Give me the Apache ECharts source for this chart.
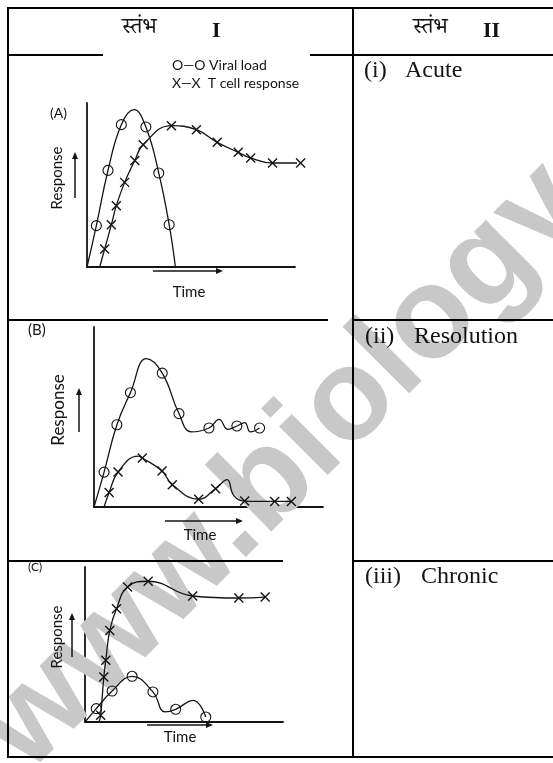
<!DOCTYPE html>
<html><head><meta charset="utf-8">
<script src="https://cdn.jsdelivr.net/npm/echarts@6/dist/echarts.min.js"></script>
<style>html,body{margin:0;padding:0;background:#fff}#c{width:553px;height:763px}</style>
</head><body><div id="c"></div>
<script>
// ---- texts ----
const headerWord = 'स्तंभ';
const headerNums = ['I', 'II'];
const rowNums = ['(i)', '(ii)', '(iii)'];
const rowWords = ['Acute', 'Resolution', 'Chronic'];
const panelLabels = ['(A)', '(B)', '(C)'];
const legendLabels = ['O—O Viral load', 'X—X  T cell response'];
const axisNames = ['Response', 'Time'];
const watermark = 'www.biology';

// ---- data: [time, response, marker(1) / curve point only(0)] ----
const viralA = [[0,0,0],[4.5,25.2,1],[10.1,58.9,1],[16.5,86.8,1],[22.6,95.9,0],[28.3,85.4,1],[34.5,57.3,1],[39.5,25.8,1],[42.5,0,0]];
const tcellA = [[6.1,0,0],[8.5,11.0,1],[11.7,25.8,1],[14.1,37.4,1],[18.1,51.6,1],[23.0,65.0,1],[27.0,74.6,1],[40.6,86.2,1],[52.6,83.7,1],[62.6,76.0,1],[72.7,69.9,1],[78.7,66.5,1],[89.2,63.4,1],[102.7,63.4,1]];
const viralB = [[0,0,0],[4.4,19.4,1],[10.0,45.7,1],[15.9,63.5,1],[22.9,82.4,0],[29.8,74.4,1],[37.1,51.9,1],[42.5,41.7,0],[50.2,43.9,1],[54.6,48.7,0],[58.5,43.1,0],[62.4,45.0,1],[65.8,46.9,0],[68.3,41.7,0],[72.3,43.9,1]];
const tcellB = [[4.4,0,0],[6.6,8.0,1],[10.5,19.4,1],[19.2,28.3,0],[21.1,27.2,1],[29.7,20.0,1],[34.2,12.4,1],[45.7,4.3,1],[53.1,10.2,1],[58.1,15.2,0],[61.0,6.5,0],[65.8,3.3,1],[78.9,3.1,1],[86.2,3.1,1]];
const viralC = [[0,0,0],[5.7,8.6,1],[13.7,20.0,1],[23.8,29.5,1],[34.3,19.4,1],[40.4,6.5,0],[45.8,8.2,1],[54.7,14.0,0],[61.0,3.2,1]];
const tcellC = [[7.1,0,0],[7.9,4.3,1],[9.5,29.0,1],[10.5,39.8,1],[12.5,59.1,1],[15.9,73.1,1],[21.5,87.1,1],[31.9,90.8,1],[54.4,81.3,1],[77.7,80.0,1],[91.0,80.6,1]];

// ---- layout ----
const grids = [
  {left: 87, top: 103, width: 208, height: 164},
  {left: 94, top: 327, width: 229, height: 180},
  {left: 85, top: 567, width: 198, height: 155}
];
const INK = '#141414';
const SANS = 'Lato, "Open Sans", sans-serif';
const SERIF = '"Liberation Serif", "DejaVu Serif", serif';
const DEVA = '"Noto Serif Devanagari", "Noto Sans Devanagari", "Lohit Devanagari", sans-serif';
const XSYM = 'path://M0,0L10,10M10,0L0,10';

const chart = echarts.init(document.getElementById('c'), null, {renderer: 'canvas'});

function axis() {
  return {type: 'value', min: 0, max: 100, axisLine: {show: true, onZero: false, lineStyle: {color: INK, width: 1.8}},
    axisTick: {show: false}, axisLabel: {show: false}, splitLine: {show: false}};
}
function curve(arr, idx, isX) {
  const sym = isX ? XSYM : 'circle';
  return {
    type: 'line', xAxisIndex: idx, yAxisIndex: idx, smooth: 0.45, clip: false, silent: true,
    showAllSymbol: true, symbolSize: isX ? 9 : 10, z: 5,
    lineStyle: {color: INK, width: 1.3},
    itemStyle: {color: 'transparent', borderColor: INK, borderWidth: isX ? 1.4 : 1.1},
    emphasis: {disabled: true},
    data: arr.map(p => ({value: [p[0], p[1]], symbol: p[2] ? sym : 'none'}))
  };
}
function txt(x, y, text, size, family, opts) {
  opts = opts || {};
  return {type: 'text', x: x, y: y, rotation: opts.rot || 0, z: 10, silent: true,
    style: {text: text, fontSize: size, fontFamily: family, fontWeight: opts.weight || 'normal', fill: opts.fill || INK,
      textAlign: opts.align || 'left', align: opts.align || 'left',
      textVerticalAlign: 'middle', verticalAlign: 'middle'}};
}
function hline(x1, x2, y, w, c) {
  return {type: 'line', z: 10, silent: true, shape: {x1: x1, y1: y, x2: x2, y2: y}, style: {stroke: c || '#000', lineWidth: w || 2}};
}
function vline(x, y1, y2, w, c) {
  return {type: 'line', z: 10, silent: true, shape: {x1: x, y1: y1, x2: x, y2: y2}, style: {stroke: c || '#000', lineWidth: w || 2}};
}
function arrowUp(x, yb, yt) {
  return [vline(x, yb, yt + 5, 1.5, INK),
    {type: 'polygon', z: 10, silent: true, shape: {points: [[x, yt], [x - 3, yt + 7], [x + 3, yt + 7]]}, style: {fill: INK}}];
}
function arrowRight(x1, x2, y) {
  return [hline(x1, x2 - 5, y, 1.5, INK),
    {type: 'polygon', z: 10, silent: true, shape: {points: [[x2, y], [x2 - 7, y - 3], [x2 - 7, y + 3]]}, style: {fill: INK}}];
}

const g = [];
// watermark
g.push({type: 'text', x: 3, y: 749, rotation: Math.PI / 4, z: 1, silent: true,
  style: {text: watermark, fontSize: 130, fontWeight: 'bold', fontFamily: '"Liberation Sans", Arial, sans-serif', fill: '#c8c8c8',
    textAlign: 'left', align: 'left', textVerticalAlign: 'middle', verticalAlign: 'middle'}});
// table rules
g.push(hline(7, 553, 8));
g.push(hline(7, 103, 55)); g.push(hline(310, 553, 55));
g.push(hline(7, 328, 320)); g.push(hline(353, 553, 320));
g.push(hline(7, 283, 561)); g.push(hline(353, 553, 561));
g.push(hline(7, 553, 757));
g.push(vline(8, 7, 758));
g.push(vline(353, 7, 758));
// header
g.push(txt(122, 31, headerWord, 22, DEVA));
g.push(txt(212, 31, headerNums[0], 22, SERIF, {weight: 'bold'}));
g.push(txt(413, 31, headerWord, 22, DEVA));
g.push(txt(483, 31, headerNums[1], 22, SERIF, {weight: 'bold'}));
// right column
const rowY = [71, 337, 577];
const numX = [364, 365, 365];
const wordX = [405, 414, 421];
for (let i = 0; i < 3; i++) {
  g.push(txt(numX[i], rowY[i], rowNums[i], 24, SERIF));
  g.push(txt(wordX[i], rowY[i], rowWords[i], 24, SERIF));
}
// panel decorations
g.push(txt(50, 113, panelLabels[0], 14, SANS));
g.push(txt(28, 330, panelLabels[1], 15, SANS));
g.push(txt(28, 567, panelLabels[2], 12, SANS));
g.push(txt(172, 65, legendLabels[0], 14, SANS));
g.push(txt(172, 83, legendLabels[1], 14, SANS));
const respPos = [[57, 178, 15], [59, 410, 17], [57, 637, 15]];
const timePos = [[189, 292], [200, 535], [180, 737]];
respPos.forEach(p => g.push(txt(p[0], p[1], axisNames[0], p[2], SANS, {rot: Math.PI / 2, align: 'center'})));
timePos.forEach(p => g.push(txt(p[0], p[1], axisNames[1], 15, SANS, {align: 'center'})));
arrowUp(75, 198, 152).forEach(e => g.push(e));
arrowUp(79, 432, 388).forEach(e => g.push(e));
arrowUp(72, 657, 613).forEach(e => g.push(e));
arrowRight(153, 223, 271).forEach(e => g.push(e));
arrowRight(165, 243, 521).forEach(e => g.push(e));
arrowRight(147, 213, 725).forEach(e => g.push(e));

chart.setOption({
  animation: false,
  backgroundColor: '#fff',
  grid: grids.map(r => Object.assign({containLabel: false}, r)),
  xAxis: grids.map((r, i) => Object.assign(axis(), {gridIndex: i, position: 'bottom'})),
  yAxis: grids.map((r, i) => Object.assign(axis(), {gridIndex: i, position: 'left'})),
  series: [
    curve(viralA, 0, false), curve(tcellA, 0, true),
    curve(viralB, 1, false), curve(tcellB, 1, true),
    curve(viralC, 2, false), curve(tcellC, 2, true)
  ],
  graphic: {elements: g}
});
</script>
</body></html>
